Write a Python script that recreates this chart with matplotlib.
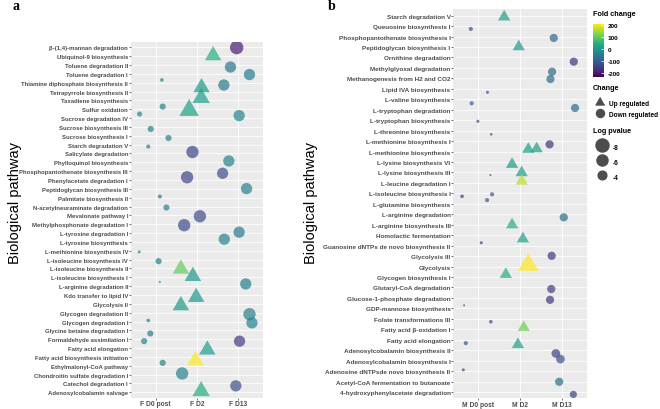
#----ライブラリ---------------------------------------------------------
import numpy as np
import matplotlib
matplotlib.use('Agg')
import matplotlib.pyplot as plt
from matplotlib.colors import Normalize
from matplotlib.lines import Line2D
plt.rcParams['axes.unicode_minus']=False
#----データ (a: F, b: M)------------------------------------------------
PATH_A=['β-(1,4)-mannan degradation','Ubiquinol-9 biosynthesis','Toluene degradation II',
'Toluene degradation I','Thiamine diphosphate biosynthesis II','Tetrapyrrole biosynthesis II',
'Taxadiene biosynthesis','Sulfur oxidation','Sucrose degradation IV','Sucrose biosynthesis III',
'Sucrose biosynthesis I','Starch degradation V','Salicylate degradation','Phylloquinol biosynthesis',
'Phosphopantothenate biosynthesis III','Phenylacetate degradation I','Peptidoglycan biosynthesis III',
'Palmitate biosynthesis II','N-acetylneuraminate degradation','Mevalonate pathway I',
'Methylphosphonate degradation I','L-tyrosine degradation I','L-tyrosine biosynthesis',
'L-methionine biosynthesis IV','L-isoleucine biosynthesis IV','L-isoleucine biosynthesis II',
'L-isoleucine biosynthesis I','L-arginine degradation II','Kdo transfer to lipid IV','Glycolysis II',
'Glycogen degradation II','Glycogen degradation I','Glycine betaine degradation I',
'Formaldehyde assimilation I','Fatty acid elongation','Fatty acid biosynthesis initiation',
'Ethylmalonyl-CoA pathway','Chondroitin sulfate degradation I','Catechol degradation I',
'Adenosylcobalamin salvage']
TIME_A=['F D0 post','F D2','F D13']
ROW_A=[1,2,3,4,5,6,5,7,8,8,9,9,10,11,12,13,14,15,16,17,18,19,20,21,22,23,24,25,26,27,
28,28,29,30,31,32,32,33,34,34,35,36,37,38,39,40]
GRP_A=[3,2,3,3,1,2,3,2,1,2,1,3,1,1,1,2,3,3,2,3,1,1,2,2,3,3,1,1,2,2,
1,3,2,2,3,3,1,1,1,3,2,2,1,2,3,2]
DX_A=[-0.04,0.39,-0.19,0.27,0.15,0.11,-0.35,0.10,0.17,-0.19,-0.39,0.02,-0.12,0.31,-0.18,
-0.11,-0.23,-0.38,-0.24,0.20,0.10,0.26,0.07,-0.31,0.02,-0.34,-0.40,0.07,-0.39,-0.10,
0.10,0.18,-0.02,-0.39,0.27,0.33,-0.18,-0.13,-0.28,0.03,0.25,-0.04,0.17,-0.36,-0.06,0.10]
DY_A=[0.03,-0.07,0.23,0.08,-0.31,-0.45,0.26,-0.27,-0.30,0.12,-0.46,-0.28,0.23,0.25,0.22,
-0.17,-0.15,0.24,-0.31,-0.03,-0.13,0.11,0.10,0.11,-0.10,-0.31,0.13,0.18,0.05,-0.12,
-0.48,-0.25,0.25,0.19,0.17,0.15,-0.12,0.35,0.22,0.22,0.20,0.40,-0.33,-0.13,0.27,-0.13]
FC_A=[-200,45,-60,-50,-40,5,-55,10,-40,20,-40,-40,-40,-40,-40,
-140,-40,-130,-140,-40,-40,-40,-130,-135,-55,-40,-35,-40,100,5,
-40,-50,5,5,-45,-40,-40,-40,-40,-160,10,220,-40,-40,-125,35]
LP_A=[-8.0,-6.8,-5.9,-5.9,-1.3,-6.8,-5.9,-7.5,-2.3,-9.2,-1.8,-5.9,-2.3,-2.3,-1.45,
-6.9,-5.9,-5.9,-6.9,-5.9,-1.45,-2.3,-6.9,-6.9,-5.9,-5.9,-1.15,-2.3,-6.8,-6.8,
-0.95,-5.9,-6.8,-6.8,-6.9,-5.9,-1.3,-2.3,-2.3,-5.9,-6.8,-6.8,-2.3,-6.9,-5.9,-7.5]
CHG_A=['D','U','D','D','D','U','D','U','D','U','D','D','D','D','D',
'D','D','D','D','D','D','D','D','D','D','D','D','D','U','U',
'D','D','U','U','D','D','D','D','D','D','U','U','D','D','D','U']

PATH_B=['Starch degradation V','Queuosine biosynthesis I','Phosphopantothenate biosynthesis I',
'Peptidoglycan biosynthesis I','Ornithine degradation','Methylglyoxal degradation',
'Methanogenesis from H2 and CO2','Lipid IVA biosynthesis','L-valine biosynthesis',
'L-tryptophan degradation','L-tryptophan biosynthesis','L-threonine biosynthesis',
'L-methionine biosynthesis I','L-methionine biosynthesis','L-lysine biosynthesis VI',
'L-lysine biosynthesis III','L-leucine degradation I','L-isoleucine biosynthesis I',
'L-glutamine biosynthesis','L-arginine degradation','L-arginine biosynthesis III',
'Homolactic fermentation','Guanosine dNTPs de novo biosynthesis II','Glycolysis III','Glycolysis',
'Glycogen biosynthesis I','Glutaryl-CoA degradation','Glucose-1-phosphate degradation',
'GDP-mannose biosynthesis','Folate transformations III','Fatty acid β-oxidation I',
'Fatty acid elongation','Adenosylcobalamin biosynthesis II','Adenosylcobalamin biosynthesis I',
'Adenosine dNTPsde novo biosynthesis II','Acetyl-CoA fermentation to butanoate',
'4-hydroxyphenylacetate degradation']
TIME_B=['M D0 post','M D2','M D13']
ROW_B=[1,2,3,4,5,6,7,8,9,10,11,12,14,14,13,15,16,16,17,18,18,19,20,21,22,23,24,25,26,27,
28,29,30,31,32,32,33,34,35,36,37]
GRP_B=[2,1,3,2,3,3,3,1,1,3,1,1,2,2,3,2,2,1,2,1,1,1,3,2,2,1,3,2,2,3,
3,1,1,2,1,2,3,3,1,3,3]
DX_B=[-0.38,-0.18,-0.19,-0.03,0.29,-0.23,-0.27,0.22,-0.16,0.32,-0.01,0.31,0.20,0.40,-0.29,
-0.19,0.04,0.29,0.04,-0.39,0.33,0.21,0.05,-0.19,0.07,0.07,-0.24,0.20,-0.34,-0.25,
-0.28,-0.34,0.30,0.09,-0.30,-0.05,-0.14,-0.03,-0.36,-0.06,0.28]
DY_B=[0.12,0.27,0.13,-0.03,0.40,0.36,0.06,0.33,0.38,-0.17,0.10,0.35,-0.22,-0.27,0.31,
0.22,0.02,0.24,-0.18,0.28,0.09,-0.36,0.29,0.00,0.35,-0.28,-0.03,-0.16,-0.25,0.15,
0.18,-0.29,0.28,-0.18,0.32,0.46,0.31,-0.15,-0.12,0.02,0.23]
FC_B=[10,-120,-90,5,-170,-85,-80,-130,-110,-80,-140,-130,10,15,-165,
5,10,-130,160,-160,-120,-120,-75,40,15,-140,-170,230,40,-160,
-165,-130,-130,110,-120,15,-145,-125,-130,-80,-155]
LP_B=[-4.1,-1.45,-3.5,-4.1,-3.5,-3.5,-3.5,-1.15,-1.45,-3.5,-1.15,-1.03,-4.1,-4.1,-3.5,
-4.1,-4.1,-0.94,-4.1,-1.29,-1.45,-1.45,-3.5,-4.1,-4.1,-1.15,-3.5,-10.1,-4.1,-3.5,
-3.5,-0.94,-1.29,-4.1,-1.45,-4.1,-3.8,-3.8,-1.15,-3.5,-2.85]
CHG_B=['U','D','D','U','D','D','D','D','D','D','D','D','U','U','D',
'U','U','D','U','D','D','D','D','U','U','D','D','U','U','D',
'D','D','D','U','D','U','D','D','D','D','D']

LEG_FC=[200,100,0,-100,-200]
LEG_LP=[-8,-6,-4]
#----描画設定-----------------------------------------------------------
W,H=660,410
NORM=Normalize(vmin=-235,vmax=205)
CMAP='viridis'
TRI=[(0,1),(-np.sqrt(3)/2,-0.5),(np.sqrt(3)/2,-0.5)]
FONT='Liberation Sans'
TXTC='#4D4D4D'

def DIAM(lp):
  lp=np.asarray(lp,dtype=float)
  return np.sqrt(np.maximum(23.5*(-lp)-18,1.0))          #px

def SIZE(lp,tri=False):
  d=DIAM(lp)*0.74
  if tri: d=d*1.56
  return d**2

def PANEL(rect,path,time,row,grp,dx,dy,fc,lp,chg,ysize):
  ax=fig.add_axes(rect)
  ax.set_facecolor('#EBEBEB')
  for s in ax.spines.values(): s.set_visible(False)
  n=len(path)
  ax.set_xlim(0.4,3.6)
  ax.set_ylim(n+0.6,0.4)
  ax.set_xticks([1,2,3])
  ax.set_xticklabels(time)
  ax.set_yticks(np.arange(1,n+1))
  ax.set_yticklabels(path)
  for v in [1,2,3]: ax.axvline(v,color='white',lw=0.6,zorder=0)
  for v in range(1,n+1): ax.axhline(v,color='white',lw=0.6,zorder=0)
  ax.tick_params(length=1.4,width=0.5,color='#333333',pad=0.6)
  for t in ax.get_yticklabels():
    t.set_fontfamily(FONT); t.set_fontweight('bold'); t.set_fontsize(ysize); t.set_color(TXTC)
  for t in ax.get_xticklabels():
    t.set_fontfamily(FONT); t.set_fontweight('bold'); t.set_fontsize(4.8); t.set_color(TXTC)
  x=np.array(grp)+np.array(dx)
  y=np.array(row)+np.array(dy)
  fc=np.array(fc); lp=np.array(lp); up=np.array(chg)=='U'
  ax.scatter(x[~up],y[~up],s=SIZE(lp[~up]),c=fc[~up],cmap=CMAP,norm=NORM,
             marker='o',edgecolors='none',alpha=0.7,zorder=3)
  ax.scatter(x[up],y[up],s=SIZE(lp[up],True),c=fc[up],cmap=CMAP,norm=NORM,
             marker=TRI,edgecolors='none',alpha=0.7,zorder=3)
  return ax

fig=plt.figure(figsize=(W/100,H/100),dpi=100)
#----a-----------------------------------------------------------------
ax1=PANEL([130.9/W,(H-398.6)/H,132.2/W,355.6/H],PATH_A,TIME_A,ROW_A,GRP_A,DX_A,DY_A,
          FC_A,LP_A,CHG_A,4.3)
#----b-----------------------------------------------------------------
ax2=PANEL([453.3/W,(H-399.3)/H,133.4/W,388.9/H],PATH_B,TIME_B,ROW_B,GRP_B,DX_B,DY_B,
          FC_B,LP_B,CHG_B,4.6)
#----ラベル-------------------------------------------------------------
fig.text(15/W,1-203/H,'Biological pathway',rotation=90,ha='center',va='center',
         fontsize=10.5,family=FONT,color='black')
fig.text(311/W,1-203/H,'Biological pathway',rotation=90,ha='center',va='center',
         fontsize=10.5,family=FONT,color='black')
fig.text(16/W,1-6/H,'a',ha='center',va='center',fontsize=10,fontweight='bold',
         family='Liberation Serif')
fig.text(332/W,1-7/H,'b',ha='center',va='center',fontsize=10,fontweight='bold',
         family='Liberation Serif')
#----凡例---------------------------------------------------------------
cax=fig.add_axes([593/W,(H-77.7)/H,11/W,52.7/H])
sm=plt.cm.ScalarMappable(norm=NORM,cmap=CMAP)
cb=fig.colorbar(sm,cax=cax,ticks=LEG_FC)
cb.outline.set_visible(False)
cax.tick_params(length=2.2,width=0.5,color='white',direction='in',pad=2.5)
for t in cax.get_yticklabels():
  t.set_fontfamily(FONT); t.set_fontweight('bold'); t.set_fontsize(4.6)

for txt,yy in [('Fold change',14),('Change',88.3),('Log pvalue',131.7)]:
  fig.text(593/W,1-yy/H,txt,ha='left',va='center',fontsize=5.2,
           fontweight='bold',family=FONT)

LP_FONT=dict(family=FONT,weight='bold',size=4.7)
h1=[Line2D([],[],ls='none',marker=TRI,color='#4D4D4D',markersize=7.2),
    Line2D([],[],ls='none',marker='o',color='#4D4D4D',markersize=5.8)]
lg1=fig.legend(h1,['Up regulated','Down regulated'],loc='upper left',
         bbox_to_anchor=(594.8/W,1-100/H),frameon=False,prop=LP_FONT,
         handlelength=1.6,handleheight=1.2,handletextpad=0.58,labelspacing=0.6,
         borderpad=0,borderaxespad=0)
h2=[Line2D([],[],ls='none',marker='o',color='#4D4D4D',markersize=DIAM(v)*0.72)
    for v in LEG_LP]
lg2=fig.legend(h2,[str(v) for v in LEG_LP],loc='upper left',
         bbox_to_anchor=(595.2/W,1-142.5/H),frameon=False,prop=LP_FONT,
         handlelength=2.0,handleheight=2.0,handletextpad=0.75,labelspacing=0.75,
         borderpad=0,borderaxespad=0)

plt.savefig('out.png',dpi=100)
plt.close()
